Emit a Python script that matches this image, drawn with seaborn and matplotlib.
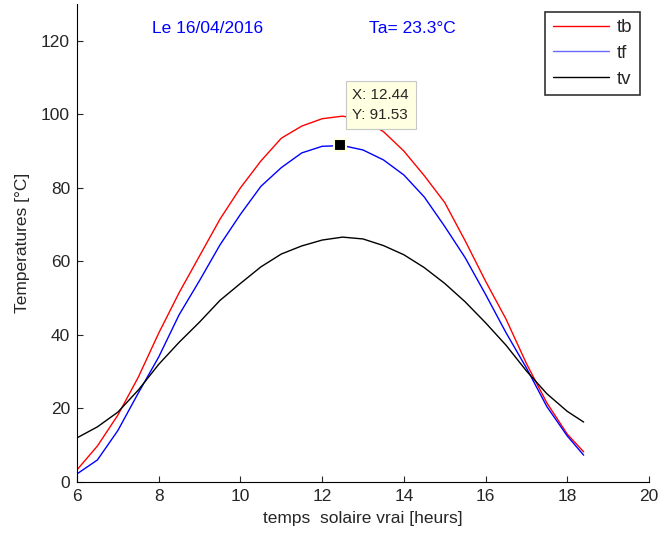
import numpy as np
import pandas as pd
import matplotlib
matplotlib.use("Agg")
import matplotlib.pyplot as plt
import seaborn as sns

# heures (temps solaire vrai)
heures = [6, 6.5, 7, 7.5, 8, 8.5, 9, 9.5, 10, 10.5, 11, 11.5, 12, 12.5,
          13, 13.5, 14, 14.5, 15, 15.5, 16, 16.5, 17, 17.5, 18, 18.4]

tb = [3.3, 9.8, 18.2, 28.5, 40.5, 51.5, 61.5, 71.5, 80.0, 87.3, 93.5, 96.8, 98.8, 99.5,
      98.5, 95.3, 90.0, 83.3, 76.0, 65.6, 54.6, 44.3, 32.2, 21.5, 13.0, 8.2]
tf = [2.2, 6.0, 14.0, 24.2, 34.0, 45.5, 54.8, 64.5, 72.8, 80.4, 85.5, 89.5, 91.3, 91.5,
      90.3, 87.6, 83.5, 77.5, 69.5, 61.0, 51.0, 40.6, 31.0, 20.5, 12.5, 7.3]
tv = [12.0, 15.0, 19.0, 25.0, 32.0, 38.0, 43.5, 49.4, 54.0, 58.5, 62.0, 64.2, 65.8, 66.6,
      66.1, 64.3, 61.8, 58.3, 54.0, 49.0, 43.3, 37.2, 30.2, 24.0, 19.2, 16.3]

tip_x, tip_y = 12.44, 91.53

df = pd.DataFrame({"t": heures, "tb": tb, "tf": tf, "tv": tv})
long = df.melt(id_vars="t", var_name="serie", value_name="T")

sns.set_style("ticks")
plt.rcParams["font.family"] = ["Liberation Sans", "DejaVu Sans"]

fig = plt.figure(figsize=(6.72, 5.35), dpi=100)
ax = fig.add_axes([0.1146, 0.0991, 0.8512, 0.8934])

sns.lineplot(data=long, x="t", y="T", hue="serie",
             palette={"tb": "#ff0000", "tf": "#0000ff", "tv": "#000000"},
             linewidth=1.0, ax=ax, legend=False)

ax.set_xlim(6, 20)
ax.set_ylim(0, 130)
ax.set_xticks(range(6, 21, 2))
ax.set_yticks(range(0, 121, 20))
ax.tick_params(direction="in", length=4, width=0.8, labelsize=12.5, pad=5)
sns.despine(ax=ax)
for s in ["left", "bottom"]:
    ax.spines[s].set_linewidth(0.8)
    ax.spines[s].set_color("black")

ax.set_xlabel("temps  solaire vrai [heurs]", fontsize=12.5, labelpad=5)
ax.set_ylabel("Temperatures [°C]", fontsize=12.5, labelpad=8)

ax.text(9.2, 123.3, "Le 16/04/2016", color="#0000ff", fontsize=12.5, ha="center", va="center")
ax.text(14.22, 123.3, "Ta= 23.3°C", color="#0000ff", fontsize=12.5, ha="center", va="center")

# data tip
ax.plot([tip_x], [tip_y], marker="s", markersize=9, color="black",
        markeredgecolor="#ffffe1", markeredgewidth=1.5, zorder=5)
ax.text(tip_x + 0.3, tip_y + 11.0, f"X: {tip_x}\nY: {tip_y}", fontsize=11,
        ha="left", va="center", linespacing=1.5,
        bbox=dict(boxstyle="square,pad=0.45", facecolor="#ffffe1", edgecolor="#c8c8c8", linewidth=0.8),
        zorder=6)

handles = [plt.Line2D([], [], color=c, linewidth=1.0) for c in ["#ff0000", "#6a6aff", "#000000"]]
leg = fig.legend(handles, ["tb", "tf", "tv"], loc="upper right",
                 bbox_to_anchor=(0.952, 0.978), borderaxespad=0, fontsize=13.5, frameon=True,
                 fancybox=False, handlelength=3.0, handletextpad=0.4,
                 labelspacing=0.45, borderpad=0.4, shadow=False)
leg.get_frame().set_edgecolor("black")
leg.get_frame().set_linewidth(1.2)

fig.savefig("out.png", dpi=100)
